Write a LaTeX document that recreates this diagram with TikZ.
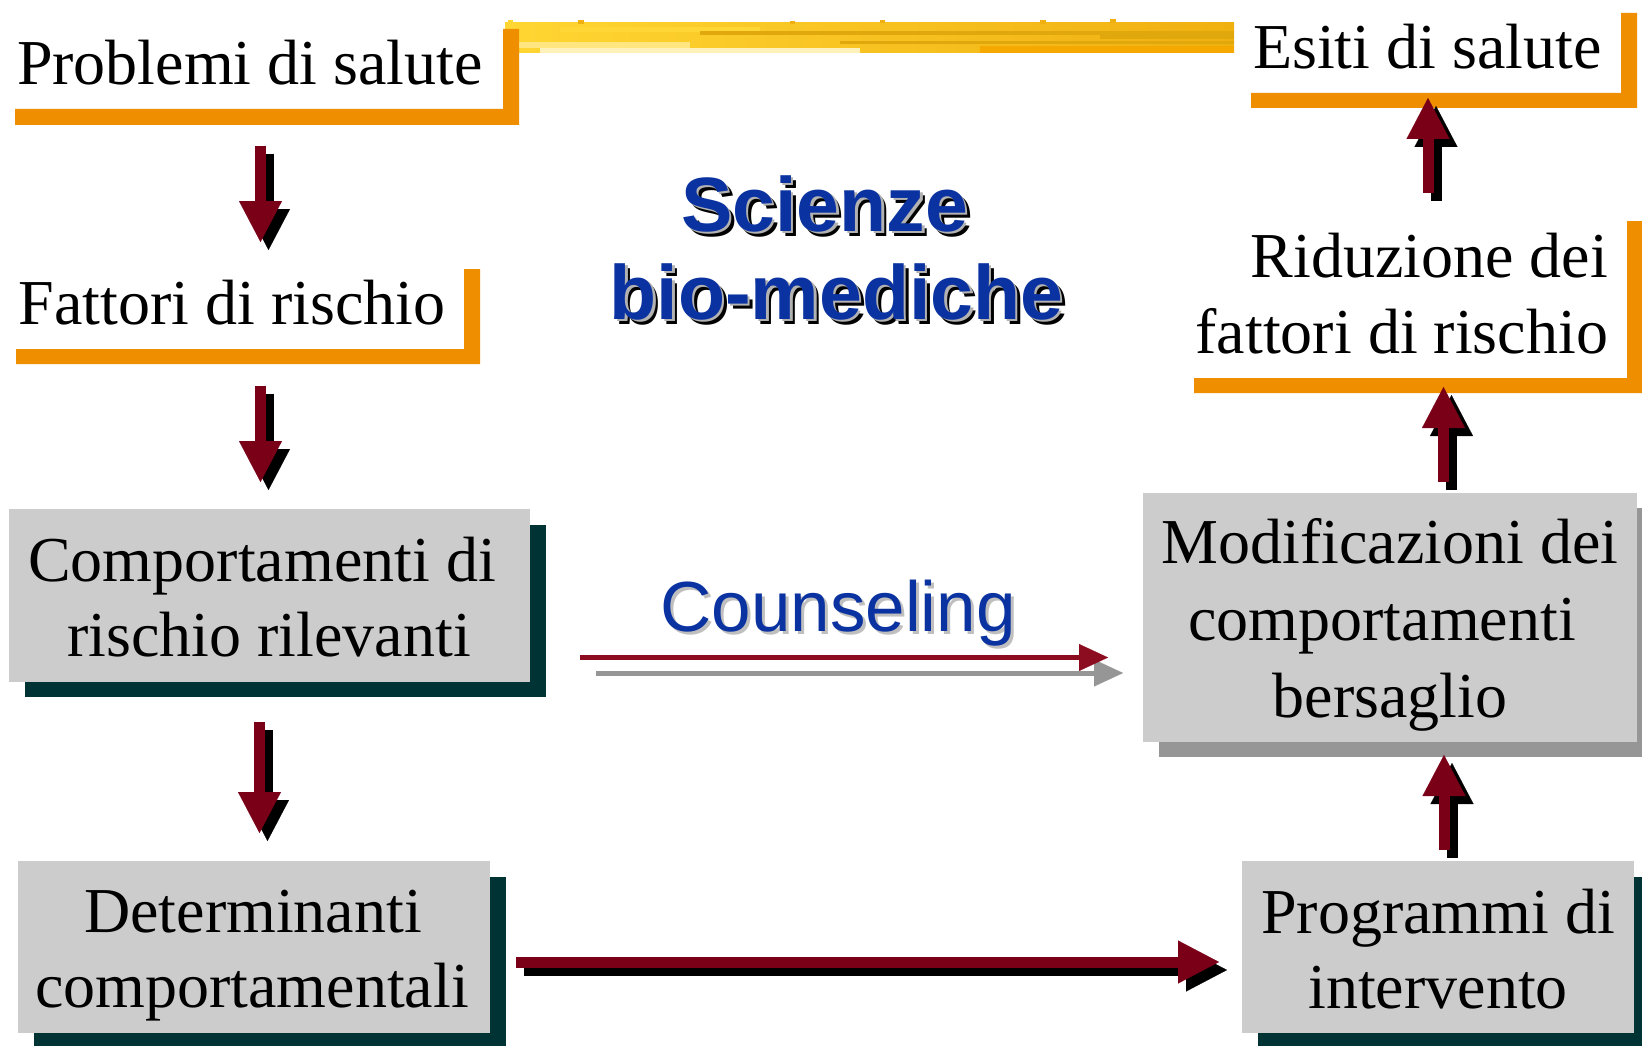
\documentclass[tikz,border=0pt]{standalone}
\usepackage{fontspec}
\setmainfont{Liberation Serif}
\newfontfamily\arialfont{Liberation Sans}
\usetikzlibrary{arrows.meta}
\definecolor{boxgray}{HTML}{CCCCCC}
\definecolor{darkteal}{HTML}{003333}
\definecolor{orangebar}{HTML}{EF8F00}
\definecolor{maroonarrow}{HTML}{7A0018}
\definecolor{crimsonline}{HTML}{8C0C20}
\definecolor{shadowgray}{HTML}{969696}
\definecolor{titleblue}{HTML}{0A32A0}
\definecolor{yelA}{HTML}{FFD633}
\definecolor{yelB}{HTML}{F0B010}
\definecolor{yelLight}{HTML}{FFE680}
\definecolor{yelDark}{HTML}{E0A80C}
\definecolor{yelOrange}{HTML}{F5A800}
\tikzset{
  lbl/.style={inner sep=0pt, outer sep=0pt, font=\fontsize{64}{76}\selectfont},
  boxshape/.style={fill=boxgray, inner sep=0pt, outer sep=0pt},
  blockarrow/.style={draw=maroonarrow, line width=11pt,
    -{Triangle[length=41pt,width=43pt,line width=0.1pt]}},
  blockshadow/.style={blockarrow, draw=black, transform canvas={xshift=8pt,yshift=-8pt}},
  thinarrow/.style={line width=5pt, -{Triangle[length=29pt,width=27pt,line width=0.1pt]}},
  scifont/.style={inner sep=0pt, outer sep=0pt, anchor=base, font=\arialfont\bfseries\fontsize{77}{88}\selectfont},
  counsfont/.style={inner sep=0pt, outer sep=0pt, anchor=base, font=\arialfont\fontsize{71}{80}\selectfont}
}
\begin{document}
\begin{tikzpicture}[x=1pt,y=-1pt]
\useasboundingbox (0,0) rectangle (1642,1046);
\fill[white] (0,0) rectangle (1642,1046);

% yellow brush stroke
\shade[left color=yelA, right color=yelB] (505,23) rectangle (1234,53);
\fill[yelLight] (505,42) rectangle (690,48);
\fill[yelLight!55!white] (540,48) rectangle (860,53);
\fill[yelA] (560,27) rectangle (760,32);
\fill[yelDark] (700,31) rectangle (1234,35);
\fill[yelDark] (840,41) rectangle (1234,44);
\fill[yelOrange] (980,46) rectangle (1234,53);
\fill[yelDark] (1100,35) rectangle (1234,39);
\fill[yelA] (508,20) rectangle (513,24);
\fill[yelB] (578,20) rectangle (584,24);
\fill[yelB] (790,21) rectangle (795,24);
\fill[yelB] (880,20) rectangle (885,23);
\fill[yelB] (1040,20) rectangle (1046,24);
\fill[yelB] (1110,19) rectangle (1116,23);

% orange brackets
\fill[orangebar] (15,109) -- (503,109) -- (503,29) -- (519,29) -- (519,125) -- (15,125) -- cycle;
\fill[orangebar] (16,349) -- (464,349) -- (464,269) -- (480,269) -- (480,364) -- (16,364) -- cycle;
\fill[orangebar] (1251,93) -- (1621,93) -- (1621,13) -- (1637,13) -- (1637,108) -- (1251,108) -- cycle;
\fill[orangebar] (1194,378) -- (1627,378) -- (1627,221) -- (1643,221) -- (1643,393) -- (1194,393) -- cycle;

\node[lbl, anchor=base west] (prob) at (17,85) {Problemi di salute};
\node[lbl, anchor=base west] (fatt) at (19,324) {Fattori di rischio};
\node[lbl, anchor=base west] (esiti) at (1253,69) {Esiti di salute};
\node[lbl, anchor=base east] (rid1) at (1608,277) {Riduzione dei};
\node[lbl, anchor=base east] (rid2) at (1608,353) {fattori di rischio};

% grey boxes with shadows
\fill[darkteal] (25,525) rectangle (546,697);
\node[boxshape, minimum width=521pt, minimum height=173pt] (comp) at (269.5,595.5) {};
\node[lbl, anchor=base] (comp1) at (262,581) {Comportamenti di};
\node[lbl, anchor=base] (comp2) at (269,656) {rischio rilevanti};

\fill[darkteal] (34,877) rectangle (506,1049);
\node[boxshape, minimum width=472pt, minimum height=172pt] (det) at (254,947) {};
\node[lbl, anchor=base] (det1) at (253,932) {Determinanti};
\node[lbl, anchor=base] (det2) at (252,1007) {comportamentali};

\fill[shadowgray] (1159,508) rectangle (1653,757);
\node[boxshape, minimum width=494pt, minimum height=249pt] (mod) at (1390,617.5) {};
\node[lbl, anchor=base] (mod1) at (1390,563) {Modificazioni dei};
\node[lbl, anchor=base] (mod2) at (1382,640) {comportamenti};
\node[lbl, anchor=base] (mod3) at (1390,717) {bersaglio};

\fill[darkteal] (1258,877) rectangle (1650,1049);
\node[boxshape, minimum width=392pt, minimum height=172pt] (prog) at (1438,947) {};
\node[lbl, anchor=base] (prog1) at (1438,933) {Programmi di};
\node[lbl, anchor=base] (prog2) at (1438,1008) {intervento};

% central titles (shadowed text)
\node[scifont, text=black] (sciS) at (829.5,236) {Scienze};
\node[scifont, text=black!30] (sciG) at (827,233.5) {Scienze};
\node[scifont, text=titleblue] (sci) at (824.5,231) {Scienze};
\node[scifont, text=black] (bioS) at (841.5,324) {bio-mediche};
\node[scifont, text=black!30] (bioG) at (839,321.5) {bio-mediche};
\node[scifont, text=titleblue] (bio) at (836.5,319) {bio-mediche};

\node[counsfont, text=black!25] (counsS) at (841,634) {Counseling};
\node[counsfont, text=titleblue] (couns) at (838,631) {Counseling};

% arrow end points
\coordinate (a1s) at (260.5,146);  \coordinate (a1e) at (260.5,242);
\coordinate (a2s) at (260.5,386);  \coordinate (a2e) at (260.5,482);
\coordinate (a3s) at (259.5,722);  \coordinate (a3e) at (259.5,833);
\coordinate (a4s) at (1444,850);   \coordinate (a4e) at (1444,755);
\coordinate (a5s) at (1443.5,482); \coordinate (a5e) at (1443.5,387);
\coordinate (a6s) at (1428,193);   \coordinate (a6e) at (1428,98);
\coordinate (bs) at (516,962);     \coordinate (be) at (1219,962);
\coordinate (cgs) at (596,673);    \coordinate (cge) at (1123,673);
\coordinate (crs) at (580,657.5);  \coordinate (cre) at (1108,657.5);

\foreach \s/\e in {a1s/a1e,a2s/a2e,a3s/a3e,a4s/a4e,a5s/a5e,a6s/a6e,bs/be}{
  \draw[blockshadow] (\s) -- (\e);
  \draw[blockarrow] (\s) -- (\e);
}
\draw[thinarrow, draw=shadowgray] (cgs) -- (cge);
\draw[thinarrow, draw=crimsonline] (crs) -- (cre);
\end{tikzpicture}
\end{document}
